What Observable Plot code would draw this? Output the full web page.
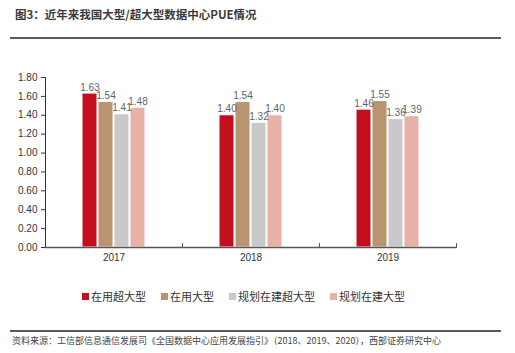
<!DOCTYPE html>
<html><head><meta charset="utf-8">
<script src="https://cdn.jsdelivr.net/npm/d3@7"></script>
<script src="https://cdn.jsdelivr.net/npm/@observablehq/plot@0.6"></script>
<style>
body{margin:0;width:515px;height:353px;position:relative;background:#fff;overflow:hidden;font-family:"Noto Sans CJK SC","Liberation Sans",sans-serif;}
#title{position:absolute;left:15px;top:6px;font-size:11.5px;font-weight:bold;color:#3a3a3a;}
.rule{position:absolute;left:10px;width:491px;height:2px;background:#5a5a5a;}
#chart{position:absolute;left:0;top:40px;}
#legend{position:absolute;top:288px;left:82px;display:flex;gap:15px;font-size:11px;color:#333;}
#legend span.sw{display:inline-block;width:7px;height:7px;margin-right:2px;vertical-align:1px;}
#source{position:absolute;left:12px;top:334px;font-size:9px;color:#444;white-space:nowrap;}
</style></head>
<body>
<div id="title">图3：近年来我国大型/超大型数据中心PUE情况</div>
<div class="rule" style="top:37px"></div>
<div id="chart"></div>
<div id="legend"></div>
<div class="rule" style="top:330px;height:1.5px"></div>
<div id="source">资料来源：工信部信息通信发展司《全国数据中心应用发展指引》（2018、2019、2020），西部证券研究中心</div>
<script>
const years = ["2017", "2018", "2019"];
const seriesNames = ["在用超大型", "在用大型", "规划在建超大型", "规划在建大型"];
const colors = ["#C20E1F", "#B89471", "#C9C9C9", "#E8B1A7"];
const s1 = [1.63, 1.40, 1.46];
const s2 = [1.54, 1.54, 1.55];
const s3 = [1.41, 1.32, 1.36];
const s4 = [1.48, 1.40, 1.39];
const yTicks = [0, 0.2, 0.4, 0.6, 0.8, 1.0, 1.2, 1.4, 1.6, 1.8];

const allSeries = [s1, s2, s3, s4];
const data = [];
years.forEach((y, i) => seriesNames.forEach((s, k) => data.push({year: y, series: s, value: allSeries[k][i]})));

const chart = Plot.plot({
  width: 515, height: 235,
  marginLeft: 44, marginRight: 59, marginTop: 37, marginBottom: 28,
  style: {fontFamily: "Liberation Sans, sans-serif", fontSize: "10px", color: "#333"},
  fx: {domain: years, padding: 0, label: null, tickSize: 0, tickPadding: 6, axis: "bottom"},
  x: {domain: seriesNames, paddingInner: 0.06, paddingOuter: 2.3, axis: null},
  y: {domain: [0, 1.8], ticks: yTicks, tickFormat: d3.format(".2f"), label: null, tickSize: 4, tickPadding: 4, line: true},
  color: {domain: seriesNames, range: colors},
  marks: [
    Plot.barY(data, {fx: "year", x: "series", y: "value", fill: "series", stroke: "#fff", strokeWidth: 1}),
    Plot.text(data, {fx: "year", x: "series", y: "value", text: d => d3.format(".2f")(d.value), lineAnchor: "bottom", dy: -3, fill: "#5b6470", fontSize: 10, fontFamily: "Liberation Sans, sans-serif"}),
    Plot.ruleY([0], {stroke: "#555", strokeWidth: 1.5}),
    Plot.frame({anchor: "right", stroke: "#555", insetTop: 166})
  ]
});
document.getElementById("chart").appendChild(chart);

const lg = document.getElementById("legend");
seriesNames.forEach((s, k) => {
  const it = document.createElement("div");
  it.innerHTML = `<span class="sw" style="background:${colors[k]}"></span>${s}`;
  lg.appendChild(it);
});
</script>
</body></html>
